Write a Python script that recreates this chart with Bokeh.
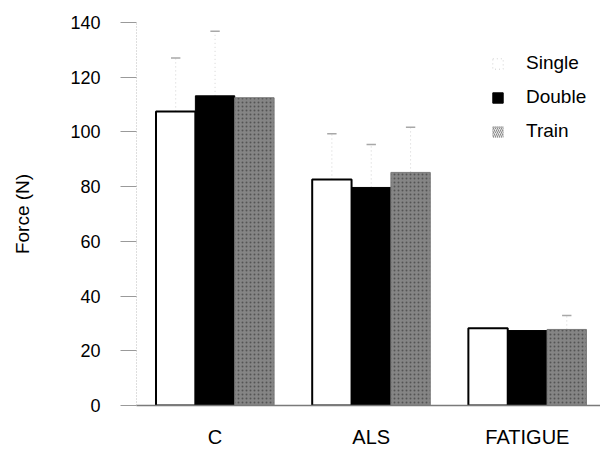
import math
from bokeh.plotting import figure
from bokeh.models import ColumnDataSource, FixedTicker, Legend, LegendItem, Range1d
from bokeh.transform import dodge
from bokeh.embed import file_html
from bokeh.resources import INLINE

nan = float("nan")

categories = ["C", "ALS", "FATIGUE"]
series_names = ["Single", "Double", "Train"]
single = [107.5, 82.6, 28.2]
double = [113.2, 79.7, 27.4]
train = [112.5, 85.2, 27.8]
single_err = [127.0, 99.3, nan]
double_err = [136.8, 95.4, nan]
train_err = [nan, 101.7, 32.9]
y_ticks = [0, 20, 40, 60, 80, 100, 120, 140]

xpos = [i + 1 for i in range(len(categories))]

FONT = "Liberation Sans"
BW = 0.252

p = figure(width=600, height=452, output_backend="svg", toolbar_location=None,
           x_range=Range1d(0.497, 3.468), y_range=Range1d(0, 140),
           min_border_left=136, min_border_right=0, min_border_top=22, min_border_bottom=47)
p.outline_line_color = None
p.xgrid.grid_line_color = None
p.ygrid.grid_line_color = None
p.background_fill_color = "white"

styles = [
    dict(fill_color="white", line_color="black", line_width=2),
    dict(fill_color="black", line_color="black", line_width=1),
    dict(fill_color="#858585", line_color="#7a7a7a", line_width=1,
         hatch_pattern="dot", hatch_color="#3a3a3a", hatch_scale=4, hatch_alpha=0.65),
]
values = [single, double, train]
errs = [single_err, double_err, train_err]
offsets = [-BW, 0.0, BW]

for vals, err, off, st in zip(values, errs, offsets, styles):
    src = ColumnDataSource(dict(x=xpos, top=vals, err=err,
                                xl=[x + off - 0.03 for x in xpos],
                                xr=[x + off + 0.03 for x in xpos]))
    p.segment(x0=dodge("x", off), y0="top", x1=dodge("x", off), y1="err", source=src,
              line_color="#d2d2d2", line_width=1, line_dash="1 3")
    p.segment(x0="xl", y0="err", x1="xr", y1="err", source=src,
              line_color="#a8a8a8", line_width=1.5)
    p.vbar(x=dodge("x", off), top="top", bottom=0, width=BW, source=src, **st)

# legend proxies (drawn off-range, only used for legend glyphs)
leg_styles = [
    dict(fill_color="white", line_color="#d0d0d0", line_width=1, line_dash="1 3"),
    dict(fill_color="black", line_color="black", line_width=1),
    dict(fill_color="#e6e6e6", line_color="#9a9a9a", line_width=1, line_dash="1 1",
         hatch_pattern="right_diagonal_line", hatch_color="#8a8a8a", hatch_scale=4),
]
items = []
for name, st in zip(series_names, leg_styles):
    r = p.vbar(x=[-10], top=[0], bottom=[0], width=0.1, **st)
    items.append(LegendItem(label=name, renderers=[r]))

legend = Legend(items=items, location=(355, 263), orientation="vertical",
                glyph_width=13, glyph_height=13, label_height=20, spacing=12,
                label_standoff=22, padding=0, margin=0,
                border_line_color=None, background_fill_alpha=0,
                label_text_font=FONT, label_text_font_size="19px", label_text_color="black")
p.add_layout(legend, "center")

# y axis
ya = p.yaxis[0]
ya.ticker = FixedTicker(ticks=y_ticks)
ya.axis_label = "Force (N)"
ya.axis_label_text_font = FONT
ya.axis_label_text_font_size = "19px"
ya.axis_label_text_font_style = "normal"
ya.axis_label_text_color = "black"
ya.axis_label_standoff = 34
ya.major_label_text_font = FONT
ya.major_label_text_font_size = "18px"
ya.major_label_text_color = "black"
ya.major_tick_out = 16
ya.major_tick_in = 0
ya.minor_tick_out = 0
ya.minor_tick_in = 0
ya.major_tick_line_color = "#9a9a9a"
ya.major_label_standoff = 20
ya.axis_line_color = "#bdbdbd"
ya.axis_line_dash = "1 2"

# x axis
xa = p.xaxis[0]
xa.ticker = FixedTicker(ticks=xpos)
xa.major_label_overrides = {x: c for x, c in zip(xpos, categories)}
xa.major_label_text_font = FONT
xa.major_label_text_font_size = "20px"
xa.major_label_text_color = "black"
xa.major_tick_out = 0
xa.major_tick_in = 0
xa.minor_tick_out = 0
xa.minor_tick_in = 0
xa.major_label_standoff = 20
xa.axis_line_color = "#7a7a7a"
xa.axis_line_width = 1.5

open("out.html", "w").write(file_html(p, INLINE))
